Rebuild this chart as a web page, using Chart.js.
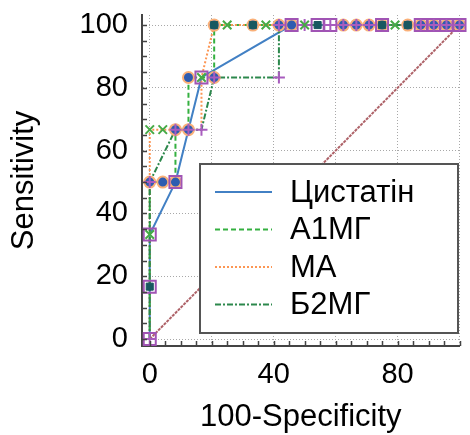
<!DOCTYPE html>
<html lang="uk">
<head>
<meta charset="UTF-8">
<title>ROC</title>
<script src="https://cdn.jsdelivr.net/npm/chart.js"></script>
<style>
  html, body { margin: 0; padding: 0; background: #fff; }
  #wrap { width: 470px; height: 435px; }
</style>
</head>
<body>
<div id="wrap"><canvas id="roc"></canvas></div>
<script>
// curves (100-Specificity, Sensitivity)
const seriesNames = ['Цистатін', 'А1МГ', 'МА', 'Б2МГ'];

const cystatinX = [0, 0, 0, 8.3, 16.7, 45.8, 100];
const cystatinY = [0, 16.7, 33.3, 50, 83.3, 100, 100];

const a1mgX = [0, 0, 8.3, 8.3, 12.5, 12.5, 20.8, 20.8, 100];
const a1mgY = [0, 50, 50, 66.7, 66.7, 83.3, 83.3, 100, 100];

const maX = [0, 0, 16.7, 16.7, 20.8, 100];
const maY = [0, 66.7, 66.7, 83.3, 100, 100];

const b2mgX = [0, 0, 8.3, 16.7, 20.8, 41.7, 41.7, 100];
const b2mgY = [0, 50, 66.7, 66.7, 83.3, 83.3, 100, 100];

const diagX = [0, 100];
const diagY = [0, 100];

// marker points seen on the curves
const circleX = [0, 4.2, 8.3, 8.3, 12.5, 12.5, 20.8, 20.8, 33.3, 41.7, 45.8, 62.5, 66.7, 70.8, 75, 83.3, 87.5, 91.7, 95.8, 100];
const circleY = [50, 50, 50, 66.7, 66.7, 83.3, 83.3, 100, 100, 100, 100, 100, 100, 100, 100, 100, 100, 100, 100, 100];

const squareX = [0, 0, 0, 8.3, 16.7, 45.8, 54.2, 58.3, 75, 87.5, 91.7, 95.8, 100];
const squareY = [0, 16.7, 33.3, 50, 83.3, 100, 100, 100, 100, 100, 100, 100, 100];

const dotX = [0, 20.8, 33.3, 54.2, 75, 83.3];
const dotY = [16.7, 100, 100, 100, 100, 100];

const plusX = [0, 0, 8.3, 12.5, 16.7, 20.8, 41.7, 41.7, 50, 58.3, 62.5, 66.7, 70.8, 87.5, 91.7, 95.8, 100];
const plusY = [0, 50, 66.7, 66.7, 66.7, 83.3, 83.3, 100, 100, 100, 100, 100, 100, 100, 100, 100, 100];

const crossX = [0, 0, 4.2, 16.7, 25, 37.5, 50, 79.2];
const crossY = [33.3, 66.7, 66.7, 83.3, 100, 100, 100, 100];

const gridTicks = [0, 20, 40, 60, 80, 100];
const xLabels = [0, 40, 80];
const yLabels = [0, 20, 40, 60, 80, 100];

const FONT = '"Liberation Sans", Arial, sans-serif';
const pts = (xs, ys) => xs.map((x, i) => ({ x: x, y: ys[i] }));

function lineSet(label, xs, ys, color, dash, width) {
  return {
    label: label, data: pts(xs, ys), showLine: true, borderColor: color,
    borderDash: dash, borderWidth: width, pointRadius: 0, fill: false, clip: false
  };
}
function markSet(xs, ys, style, r, border, fillc, bw) {
  return {
    data: pts(xs, ys), showLine: false, pointStyle: style, pointRadius: r,
    pointHoverRadius: r, pointBorderColor: border, pointBackgroundColor: fillc,
    pointBorderWidth: bw, clip: false
  };
}

const lines = [
  lineSet(seriesNames[0], cystatinX, cystatinY, 'rgb(66,128,196)', [], 2),
  lineSet(seriesNames[1], a1mgX, a1mgY, 'rgb(52,176,64)', [5, 3], 2),
  lineSet(seriesNames[2], maX, maY, 'rgb(252,150,84)', [2, 2], 2),
  lineSet(seriesNames[3], b2mgX, b2mgY, 'rgb(44,136,76)', [6, 2, 2, 2], 2)
];

const datasets = [
  markSet(crossX, crossY, 'crossRot', 6, 'rgb(70,170,70)', 'transparent', 2),
  markSet(plusX, plusY, 'cross', 6, 'rgb(168,92,190)', 'transparent', 2),
  markSet(dotX, dotY, 'rect', 5, 'rgb(24,88,96)', 'rgb(24,88,96)', 1),
  markSet(squareX, squareY, 'rect', 8.5, 'rgb(160,84,180)', 'transparent', 2),
  markSet(circleX, circleY, 'circle', 5.5, 'rgb(250,176,120)', 'rgb(46,92,176)', 2),
  lines[3], lines[2], lines[1], lines[0],
  lineSet('', diagX, diagY, 'rgba(170,90,96,0.95)', [3, 1], 2)
];

const legendBox = {
  id: 'legendBox',
  afterDraw(chart) {
    const ctx = chart.ctx;
    ctx.save();
    ctx.fillStyle = '#fff';
    ctx.fillRect(200, 164, 258, 169);
    ctx.strokeStyle = '#555';
    ctx.lineWidth = 2;
    ctx.strokeRect(200, 164, 258, 169);
    lines.forEach((ds, i) => {
      const y = 192 + i * 37.5;
      ctx.beginPath();
      ctx.setLineDash(ds.borderDash);
      ctx.strokeStyle = ds.borderColor;
      ctx.lineWidth = 2;
      ctx.moveTo(215, y);
      ctx.lineTo(272, y);
      ctx.stroke();
      ctx.setLineDash([]);
      ctx.fillStyle = '#000';
      ctx.font = '31px ' + FONT;
      ctx.textBaseline = 'middle';
      ctx.fillText(ds.label, 290, y + 1);
    });
    ctx.restore();
  }
};

// short inward tick marks every 5 units
const innerTicks = {
  id: 'innerTicks',
  afterDraw(chart) {
    const ctx = chart.ctx, xs = chart.scales.x, ys = chart.scales.y, a = chart.chartArea;
    ctx.save();
    ctx.strokeStyle = '#444';
    ctx.lineWidth = 1.5;
    ctx.beginPath();
    for (let v = 0; v <= 100; v += 5) {
      const py = Math.round(ys.getPixelForValue(v)) + 0.5;
      ctx.moveTo(a.left, py); ctx.lineTo(a.left + 5, py);
      const px = Math.round(xs.getPixelForValue(v)) + 0.5;
      ctx.moveTo(px, a.bottom); ctx.lineTo(px, a.bottom - 5);
    }
    ctx.stroke();
    ctx.restore();
  }
};

new Chart(document.getElementById('roc'), {
  type: 'scatter',
  data: { datasets: datasets },
  plugins: [legendBox, innerTicks],
  options: {
    responsive: true,
    maintainAspectRatio: false,
    animation: false,
    layout: { padding: { top: 15, right: 7, left: 0, bottom: 0 } },
    plugins: { legend: { display: false }, tooltip: { enabled: false } },
    scales: {
      x: {
        type: 'linear', min: -2.5, max: 100,
        afterBuildTicks: s => { s.ticks = gridTicks.map(v => ({ value: v })); },
        afterFit: s => { s.height = 89; s.paddingLeft = 0; s.paddingRight = 0; },
        grid: { color: '#a8a8a8', lineWidth: 1, drawTicks: false },
        border: { display: true, color: '#444', width: 2, dash: [1, 2] },
        ticks: {
          padding: 12, color: '#000', font: { size: 29, family: FONT },
          maxRotation: 0, autoSkip: false,
          callback: v => xLabels.includes(v) ? String(v) : ''
        },
        title: { display: true, text: '100-Specificity', color: '#000',
          font: { size: 31, family: FONT }, padding: { top: 0, bottom: -1 } }
      },
      y: {
        type: 'linear', min: -2.2, max: 103.2,
        afterBuildTicks: s => { s.ticks = gridTicks.map(v => ({ value: v })); },
        afterFit: s => { s.width = 142; s.paddingTop = 0; s.paddingBottom = 0; },
        grid: { color: '#a8a8a8', lineWidth: 1, drawTicks: false },
        border: { display: true, color: '#444', width: 2, dash: [1, 2] },
        ticks: {
          padding: 14, color: '#000', font: { size: 29, family: FONT },
          autoSkip: false,
          callback: v => yLabels.includes(v) ? String(v) : ''
        },
        title: { display: true, text: 'Sensitivity', color: '#000',
          font: { size: 31, family: FONT }, padding: { top: 6, bottom: 0 } }
      }
    }
  }
});
</script>
</body>
</html>
